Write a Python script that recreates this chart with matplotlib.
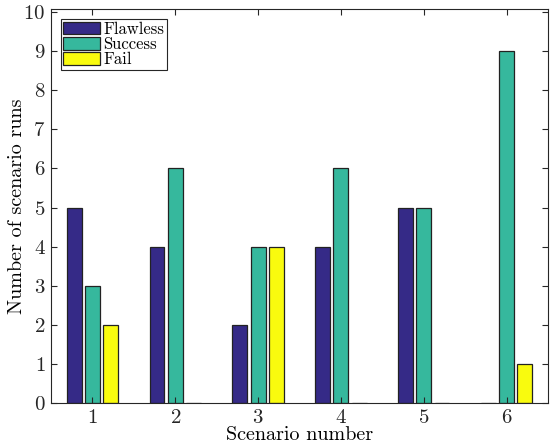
import matplotlib
matplotlib.use("Agg")
import matplotlib.pyplot as plt
import numpy as np

plt.rcParams['font.family'] = 'serif'
plt.rcParams['font.serif'] = ['cmr10', 'DejaVu Serif']
plt.rcParams['mathtext.fontset'] = 'cm'
plt.rcParams['axes.formatter.use_mathtext'] = True

# Data
scenarios = [1, 2, 3, 4, 5, 6]
flawless = [5, 4, 2, 4, 5, 0]
success = [3, 6, 4, 6, 5, 9]
fail = [2, 0, 4, 0, 0, 1]

series = [("Flawless", flawless, "#352A87"),
          ("Success", success, "#36B89D"),
          ("Fail", fail, "#F9FB0E")]

fig = plt.figure(figsize=(5.56, 4.46), dpi=100)
ax = fig.add_axes([0.0917, 0.0964, 0.8939, 0.8834])

x = np.array(scenarios, dtype=float)
width = 0.18
offset = 0.22
for i, (name, vals, col) in enumerate(series):
    ax.bar(x + (i - 1) * offset, vals, width, color=col, edgecolor='#222222',
           linewidth=0.9, label=name)

ax.set_xlim(0.5, 6.5)
ax.set_ylim(0, 10.08)
ax.set_xticks(scenarios)
ax.set_yticks(range(0, 11))
ax.tick_params(direction='in', top=True, right=True, labelsize=15,
               length=4, width=0.8, colors='#262626', pad=4)
for s in ax.spines.values():
    s.set_color('#262626')
    s.set_linewidth(0.8)

ax.set_xlabel("Scenario number", fontsize=14.5, labelpad=0)
ax.set_ylabel("Number of scenario runs", fontsize=14.5)
ax.yaxis.set_label_coords(-0.05, 0.5)

leg = ax.legend(loc='upper left', fontsize=12, fancybox=False,
                framealpha=1, edgecolor='#262626', handlelength=2.2,
                handleheight=0.8, handletextpad=0.2, labelspacing=0.0,
                borderpad=0.15, borderaxespad=0.6)
leg.get_frame().set_linewidth(0.8)

fig.savefig("out.png", dpi=100)
